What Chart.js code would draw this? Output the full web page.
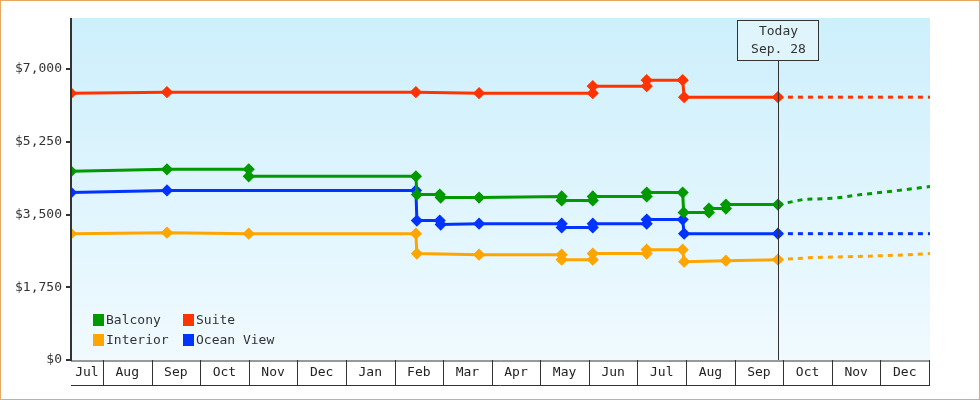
<!DOCTYPE html>
<html><head><meta charset="utf-8">
<script src="https://cdn.jsdelivr.net/npm/chart.js@4"></script>
<style>html,body{margin:0;padding:0;background:#fff}#wrap{width:980px;height:400px}</style>
</head><body><div id="wrap"><canvas id="c"></canvas></div>
<script>
// x = month index (Aug=1 ... Dec=17), fractional
const monthLabels = ["Jul","Aug","Sep","Oct","Nov","Dec","Jan","Feb","Mar","Apr","May","Jun","Jul","Aug","Sep","Oct","Nov","Dec"];
const yTicks = [0,1750,3500,5250,7000];
const todayX = 14.89;
const todayLabel = ["Today","Sep. 28"];
const suiteX = [0.342,2.317,7.44,8.74,11.08,11.08,12.19,12.19,12.93,12.96,14.89];
const suiteY = [6420,6445,6445,6420,6420,6590,6590,6735,6735,6325,6325];
const balconyX = [0.342,2.317,4.0,4.0,7.44,7.46,7.93,7.95,8.74,10.44,10.44,11.08,11.08,12.19,12.19,12.93,12.95,13.47,13.47,13.82,13.82,14.89];
const balconyY = [4540,4590,4590,4420,4420,3980,3980,3910,3910,3935,3840,3840,3935,3935,4030,4030,3550,3550,3645,3645,3740,3740];
const oceanX = [0.342,2.317,7.44,7.46,7.93,7.95,8.74,10.44,10.44,11.08,11.08,12.19,12.19,12.93,12.96,14.89];
const oceanY = [4030,4080,4080,3355,3355,3260,3280,3280,3190,3190,3280,3280,3380,3380,3040,3040];
const interiorX = [0.342,2.317,4.0,7.44,7.46,8.74,10.44,10.44,11.08,11.08,12.19,12.19,12.93,12.96,13.82,14.89];
const interiorY = [3040,3065,3040,3040,2560,2535,2535,2415,2415,2560,2560,2655,2655,2365,2390,2415];
const suiteFX = [14.89,18.02], suiteFY = [6325,6325];
const balconyFX = [14.89,15.4,16.1,16.6,17.3,18.02], balconyFY = [3740,3860,3900,3980,4070,4175];
const oceanFX = [14.89,18.02], oceanFY = [3040,3040];
const interiorFX = [14.89,15.6,16.5,17.3,18.02], interiorFY = [2415,2465,2490,2520,2560];
const names = ["Balcony","Suite","Interior","Ocean View"];
const colors = {Balcony:"#009900",Suite:"#ff3300",Interior:"#ffa500","Ocean View":"#0033ff"};

const pts = (xs,ys)=>xs.map((x,i)=>({x,y:ys[i]}));
function ds(label,xs,ys,forecast){
  return {label,data:pts(xs,ys),borderColor:colors[label],backgroundColor:colors[label],
    borderWidth:3,pointStyle:'rectRot',pointRadius:forecast?0:4,pointHoverRadius:4,
    borderDash:forecast?[5,5]:[],tension:0,fill:false};
}
const FONT = "'DejaVu Sans Mono', monospace";
const deco = {
  id:'deco',
  beforeDraw(ch){
    const c=ch.ctx,a=ch.chartArea;
    c.save();c.fillStyle='#fff';c.fillRect(0,0,ch.width,ch.height);
    const g=c.createLinearGradient(0,a.top,0,a.bottom);
    g.addColorStop(0,'#cdeffc');g.addColorStop(1,'#f0faff');
    c.fillStyle=g;c.fillRect(a.left,a.top,a.right-a.left,a.bottom-a.top);
    c.restore();
  },
  afterDraw(ch){
    const c=ch.ctx,a=ch.chartArea,xs=ch.scales.x;
    c.save();
    c.strokeStyle='#333';c.lineWidth=1;
    const yb=a.bottom+25;
    c.beginPath();c.moveTo(a.left,yb+0.5);c.lineTo(a.right,yb+0.5);c.stroke();
    c.beginPath();c.moveTo(a.left,a.bottom+1);c.lineTo(a.right,a.bottom+1);c.stroke();
    for(let m=1;m<=18;m++){const px=Math.round(xs.getPixelForValue(m))+0.5;c.beginPath();c.moveTo(px,a.bottom);c.lineTo(px,yb);c.stroke();}
    c.lineWidth=2;c.beginPath();c.moveTo(a.left,a.top);c.lineTo(a.left,a.bottom+1);c.stroke();
    const tx=Math.round(xs.getPixelForValue(todayX))+0.5;
    c.lineWidth=1;c.strokeStyle='#333';c.beginPath();c.moveTo(tx,60);c.lineTo(tx,a.bottom);c.stroke();
    c.fillStyle='#dff4fb';c.fillRect(tx-41,20.5,81,40);c.strokeRect(tx-41,20.5,81,40);
    c.fillStyle='#333';c.font="13px "+FONT;c.textAlign='center';c.textBaseline='middle';
    c.fillText(todayLabel[0],tx,32);c.fillText(todayLabel[1],tx,50);
    c.textAlign='left';
    const pos=[[93,320],[183,320],[93,340],[183,340]];
    names.forEach((n,i)=>{const [x,y]=pos[i];c.fillStyle=colors[n];c.fillRect(x,y-6,11,12);c.fillStyle='#333';c.fillText(n,x+13,y+1);});
    c.strokeStyle='#e8a860';c.lineWidth=1;c.strokeRect(0.5,0.5,ch.width-1,ch.height-1);
    c.restore();
  }
};
new Chart(document.getElementById('c'),{
  type:'line',
  data:{datasets:[
    ds('Suite',suiteX,suiteY),ds('Balcony',balconyX,balconyY),ds('Ocean View',oceanX,oceanY),ds('Interior',interiorX,interiorY),
    ds('Suite',suiteFX,suiteFY,true),ds('Balcony',balconyFX,balconyFY,true),ds('Ocean View',oceanFX,oceanFY,true),ds('Interior',interiorFX,interiorFY,true)
  ]},
  options:{
    responsive:true,maintainAspectRatio:false,animation:false,devicePixelRatio:1,
    layout:{padding:{left:0,right:50,top:18,bottom:0}},
    plugins:{legend:{display:false},tooltip:{enabled:false}},
    scales:{
      x:{type:'linear',min:0.342,max:18.02,
        afterFit(s){s.height=40;},
        afterBuildTicks(s){s.ticks=monthLabels.map((l,i)=>({value:i===0?0.67:i+0.5}));},
        ticks:{autoSkip:false,maxRotation:0,color:'#222',font:{family:FONT,size:13},padding:5,
          callback:(v,i)=>monthLabels[i]},
        grid:{display:false,tickLength:0,drawTicks:false},border:{display:false}},
      y:{min:0,max:8230,
        afterFit(s){s.width=71;},
        afterBuildTicks(s){s.ticks=yTicks.map(v=>({value:v}));},
        ticks:{color:'#333',font:{family:FONT,size:13},padding:4,
          callback:v=>'$'+v.toLocaleString('en-US')},
        grid:{drawOnChartArea:false,tickLength:5,color:'#333',lineWidth:2},border:{display:false}}
    }
  },
  plugins:[deco]
});
</script></body></html>
